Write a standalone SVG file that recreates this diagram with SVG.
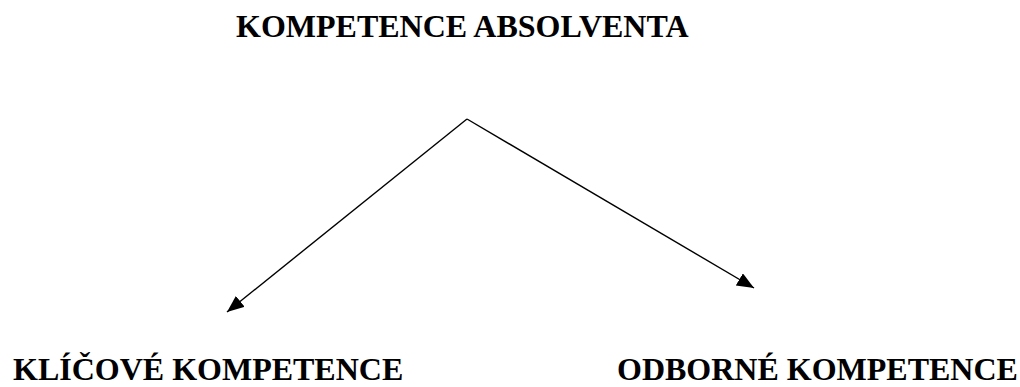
<svg xmlns="http://www.w3.org/2000/svg" width="1020" height="387" viewBox="0 0 1020 387">
<style>
.t{font-family:"Liberation Serif","Times New Roman",serif;font-weight:bold;font-size:32px;fill:#000}
.c{stroke:#000;stroke-width:1.4;fill:none}
</style>
<defs>
<marker id="ah" markerUnits="userSpaceOnUse" markerWidth="18" markerHeight="16" refX="17" refY="7" orient="auto">
<path d="M0,0 L17,7 L0,14 z" fill="#000"/>
</marker>
</defs>
<rect width="1020" height="387" fill="#fff"/>
<g id="root"><text class="t" x="236" y="37">KOMPETENCE ABSOLVENTA</text></g>
<g id="klicove"><text class="t" x="13" y="380">KLÍČOVÉ KOMPETENCE</text></g>
<g id="odborne"><text class="t" x="617" y="380">ODBORNÉ KOMPETENCE</text></g>
<g id="connectors">
<line class="c" x1="467" y1="119" x2="227" y2="312" marker-end="url(#ah)"/>
<line class="c" x1="467" y1="119" x2="754" y2="288" marker-end="url(#ah)"/>
</g>
</svg>
